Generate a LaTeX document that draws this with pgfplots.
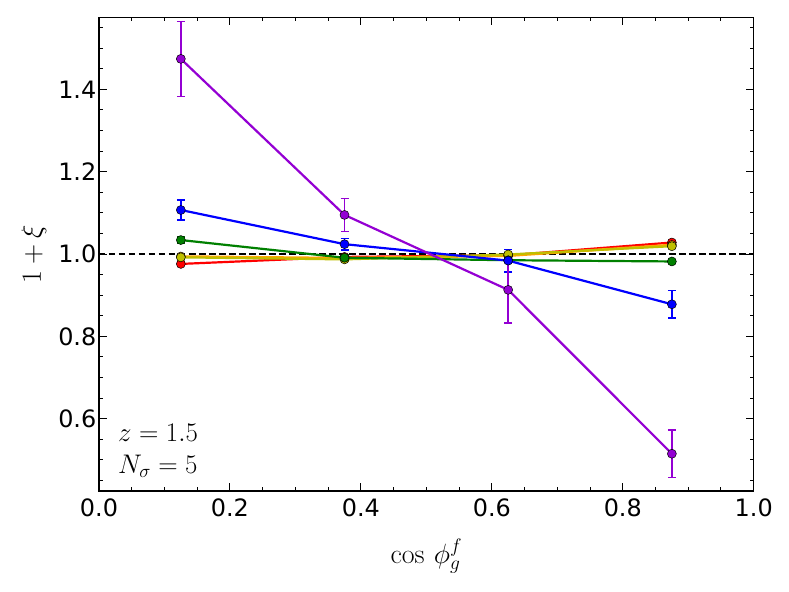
\RequirePackage{fix-cm}
\documentclass[border=0pt]{standalone}
\usepackage{fontspec}
\usepackage{pgfplots}
\pgfplotsset{compat=1.18}
\newfontfamily\dejavu{DejaVu Sans}
\definecolor{mpred}{rgb}{1,0,0}
\definecolor{mporange}{rgb}{1,0.647,0}
\definecolor{mpyellow}{rgb}{0.75,0.75,0}
\definecolor{mpgreen}{rgb}{0,0.5,0}
\definecolor{mpblue}{rgb}{0,0,1}
\definecolor{mppurple}{rgb}{0.58,0,0.827}
\begin{document}
\begin{tikzpicture}
\path[use as bounding box] (-99bp,-101bp) rectangle (690bp,491bp);
\begin{axis}[
  at={(0,0)}, anchor=south west,
  scale only axis,
  width=654.7bp, height=473.7bp,
  xmin=0, xmax=1, ymin=0.4245, ymax=1.575,
  xtick={0,0.2,0.4,0.6,0.8,1.0},
  ytick={0.6,0.8,1.0,1.2,1.4},
  minor xtick={0.05,0.1,...,0.96},
  minor ytick={0.45,0.5,...,1.56},
  xticklabels={0.0,0.2,0.4,0.6,0.8,1.0},
  yticklabels={0.6,0.8,1.0,1.2,1.4},
  tick align=inside,
  xtick pos=both, ytick pos=both,
  major tick length=8bp, minor tick length=4bp,
  every tick/.style={black, line width=1bp},
  axis line style={line width=1.2bp},
  /pgf/number format/assume math mode=true,
  tick label style={font=\dejavu\fontsize{24}{24}\selectfont},
  xticklabel style={inner sep=0pt, yshift=-8bp},
  yticklabel style={inner sep=0pt, xshift=-2.5bp},
  xlabel={$\cos\,\phi_g^f$},
  ylabel={$1+\xi$},
  label style={font=\fontsize{28}{28}\selectfont},
  xlabel style={at={(axis description cs:0.5,-0.152)}, anchor=base},
  ylabel style={at={(axis description cs:-0.075,0.5)}, anchor=south, rotate=0},
  every axis plot/.append style={line width=2.2bp, mark=*, mark size=4.5bp},
  error bars/y dir=both, error bars/y explicit,
  error bars/error mark options={rotate=90, mark size=4bp, line width=1.6bp},
  error bars/error bar style={line width=1.6bp},
]
\addplot[black, dashed, mark=none, line width=2bp, dash pattern=on 6.5bp off 3.5bp, forget plot] coordinates {(0,1) (1,1)};

\addplot[mpred, mark options={draw=black, fill=mpred, line width=0.5bp}] coordinates {
 (0.125,0.976) +- (0,0.004)
 (0.375,0.993) +- (0,0.004)
 (0.625,0.997) +- (0,0.004)
 (0.875,1.028) +- (0,0.004)
};
\addplot[mporange, line width=2.6bp, mark options={draw=black, fill=mporange, line width=0.5bp}] coordinates {
 (0.125,0.994) +- (0,0.004)
 (0.375,0.990) +- (0,0.004)
 (0.625,0.996) +- (0,0.004)
 (0.875,1.022) +- (0,0.004)
};
\addplot[mpyellow, mark options={draw=black, fill=mpyellow, line width=0.5bp}] coordinates {
 (0.125,0.992) +- (0,0.005)
 (0.375,0.987) +- (0,0.005)
 (0.625,0.999) +- (0,0.005)
 (0.875,1.019) +- (0,0.005)
};
\addplot[mpgreen, mark options={draw=black, fill=mpgreen, line width=0.5bp}] coordinates {
 (0.125,1.034) +- (0,0.007)
 (0.375,0.991) +- (0,0.006)
 (0.625,0.985) +- (0,0.005)
 (0.875,0.982) +- (0,0.004)
};
\addplot[mpblue, mark options={draw=black, fill=mpblue, line width=0.5bp}] coordinates {
 (0.125,1.107) +- (0,0.024)
 (0.375,1.024) +- (0,0.014)
 (0.625,0.984) +- (0,0.027)
 (0.875,0.878) +- (0,0.033)
};
\addplot[mppurple, mark options={draw=black, fill=mppurple, line width=0.5bp}] coordinates {
 (0.125,1.474) +- (0,0.091)
 (0.375,1.095) +- (0,0.040)
 (0.625,0.913) +- (0,0.080)
 (0.875,0.515) +- (0,0.058)
};
\node[anchor=base west, font=\fontsize{27}{27}\selectfont, inner sep=0pt] at (rel axis cs:0.029,0.104) {$z=1.5$};
\node[anchor=base west, font=\fontsize{27}{27}\selectfont, inner sep=0pt] at (rel axis cs:0.029,0.038) {$N_\sigma=5$};
\end{axis}
\end{tikzpicture}
\end{document}
